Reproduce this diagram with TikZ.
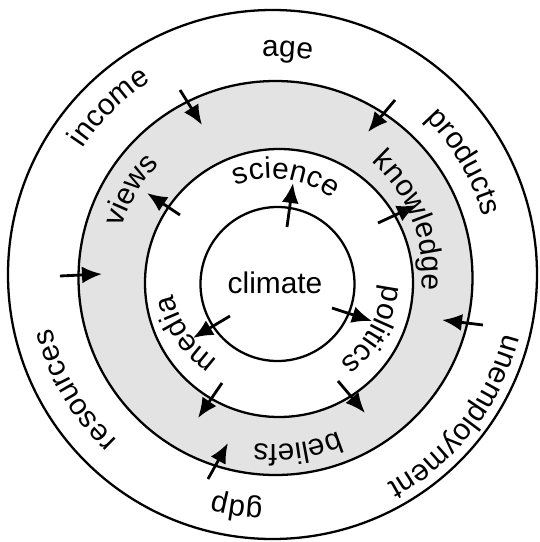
\documentclass[tikz,border=0pt]{standalone}
\usepackage{fontspec}
\setmainfont{Liberation Sans}
\usetikzlibrary{arrows.meta,decorations.text}
\definecolor{ringgray}{gray}{0.89}

\begin{document}
\begin{tikzpicture}[x=0.02cm,y=0.02cm,
                execute at begin picture={\fontsize{17}{20}\selectfont},
                ringline/.style={line width=1.3pt},
                push/.style={line width=1.6pt,-{Latex[length=4mm,width=3.4mm]}},
                ringlabel/.style={decorate,decoration={text along path,text align=center,text={#1}}}]
                \useasboundingbox (-272.5,-267.5) rectangle (266.5,274.5);
                \draw[ringline] (0,0) circle[radius=264.5];
                \draw[ringline,fill=ringgray] (3,-3.5) circle[radius=197];
                \draw[ringline,fill=white] (6.5,-8.5) circle[radius=134];
                \draw[ringline] (5,-9.5) circle[radius=77];
                \node[anchor=base] (climate) at (2.5,-18.5) {climate};
                \path[ringlabel=age] (146.2:218) arc[start angle=146.2,end angle=26.2,radius=218];
                \path[ringlabel=income] (194.3:228) arc[start angle=194.3,end angle=74.3,radius=228];
                \path[ringlabel=products] (90.5:218) arc[start angle=90.5,end angle=-29.5,radius=218];
                \path[ringlabel=unemployment] (382.3:239) arc[start angle=382.3,end angle=262.3,radius=239];
                \path[ringlabel=gdp] (321.3:228) arc[start angle=321.3,end angle=201.3,radius=228];
                \path[ringlabel=resources] (270.3:227) arc[start angle=270.3,end angle=150.3,radius=227];
                \path[ringlabel=views] (209.3:158) arc[start angle=209.3,end angle=89.3,radius=158];
                \path[ringlabel=knowledge] (81.3:150) arc[start angle=81.3,end angle=-38.7,radius=150];
                \path[ringlabel=beliefs] (338.3:170) arc[start angle=338.3,end angle=218.3,radius=170];
                \path[ringlabel=science] (142.1:96) arc[start angle=142.1,end angle=22.1,radius=96];
                \path[ringlabel=politics] (391.2:111) arc[start angle=391.2,end angle=271.2,radius=111];
                \path[ringlabel=media] (274.5:101) arc[start angle=274.5,end angle=154.5,radius=101];
                \draw[push] (-92.5,184.5) -- (-70.5,149.5);
                \draw[push] (122.5,174.5) -- (95.5,142.5);
                \draw[push] (-92.5,59.5) -- (-125.5,81.5);
                \draw[push] (14.5,47.5) -- (20.5,91.5);
                \draw[push] (105.5,51.5) -- (144.5,69.5);
                \draw[push] (-212.5,-1.5) -- (-170.5,0.5);
                \draw[push] (210.5,-50.5) -- (169.5,-45.5);
                \draw[push] (-42.5,-41.5) -- (-79.5,-63.5);
                \draw[push] (-50.5,-108.5) -- (-74.5,-143.5);
                \draw[push] (-64.5,-204.5) -- (-44.5,-168.5);
                \draw[push] (59.5,-33.5) -- (99.5,-46.5);
                \draw[push] (65.5,-106.5) -- (92.5,-138.5);
            \end{tikzpicture}
\end{document}
